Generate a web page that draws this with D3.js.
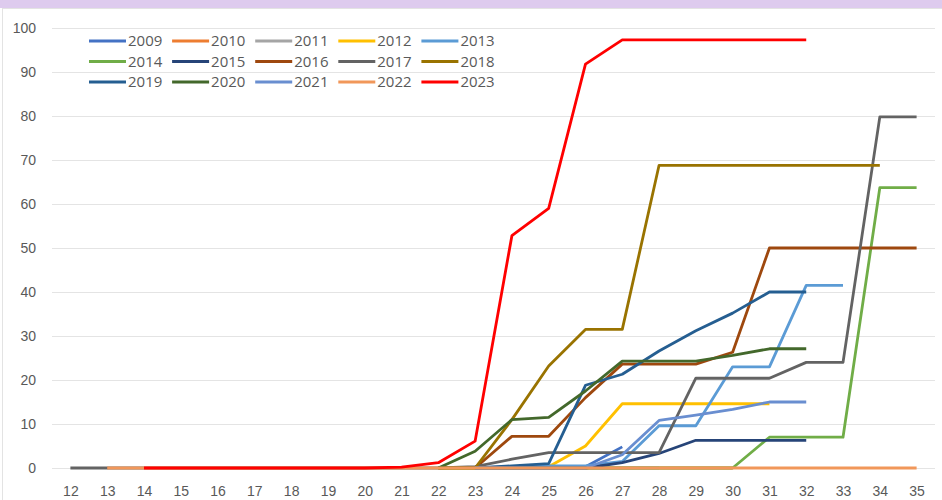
<!DOCTYPE html>
<html>
<head>
<meta charset="utf-8">
<script src="https://cdn.jsdelivr.net/npm/d3@7"></script>
<style>
  body { margin: 0; background: #fff; }
  svg { display: block; font-family: 'Open Sans', sans-serif; }
  .axis text { fill: #595959; font-size: 14px; }
  .legend text { fill: #595959; font-size: 15px; }
</style>
</head>
<body>
<svg></svg>
<script>
let svgWidth = 942
let svgHeight = 500

let weeks = [12, 13, 14, 15, 16, 17, 18, 19, 20, 21, 22, 23, 24, 25, 26, 27, 28, 29, 30, 31, 32, 33, 34, 35]
let y_ticks = [0, 10, 20, 30, 40, 50, 60, 70, 80, 90, 100]

let years = ['2009', '2010', '2011', '2012', '2013', '2014', '2015', '2016', '2017', '2018', '2019', '2020', '2021', '2022', '2023']
let colors = ['#4472C4', '#ED7D31', '#A5A5A5', '#FFC000', '#5B9BD5', '#70AD47', '#264478', '#9E480E',
  '#636363', '#997300', '#255E91', '#43682B', '#698ED0', '#F1975A', '#FF0000']

// one value per week (12 .. 35), null = no data
let s2009 = [null, null, null, null, null, null, null, null, null, null, null, null, null, 0, 0.3, 4.8, null, null, null, null, null, null, null, null]
let s2010 = [null, null, null, null, null, null, null, null, null, null, 0, 0, 0, 0, 0, 0, 0, 0, 0, null, null, null, null, null]
let s2011 = [null, null, null, null, null, null, null, null, null, null, null, 0, 0, 0, 0, 0, 0, null, null, null, null, null, null, null]
let s2012 = [null, null, null, null, null, null, null, null, null, null, null, 0, 0, 0.3, 5, 14.6, 14.6, 14.6, 14.6, 14.6, null, null, null, null]
let s2013 = [null, null, null, null, null, null, null, null, null, null, null, 0, 0.3, 0.5, 0.5, 1.5, 9.6, 9.6, 23, 23, 41.5, 41.5, null, null]
let s2014 = [null, null, null, null, null, null, null, null, null, null, 0, 0, 0, 0, 0, 0, 0, 0, 0, 7, 7, 7, 63.7, 63.7]
let s2015 = [null, null, null, null, null, null, null, null, null, null, null, 0, 0, 0, 0, 1.2, 3.3, 6.3, 6.3, 6.3, 6.3, null, null, null]
let s2016 = [null, null, null, null, null, null, null, null, null, null, null, 0, 7.2, 7.2, 16, 23.6, 23.6, 23.6, 26.3, 50, 50, 50, 50, 50]
let s2017 = [0, 0, 0, 0, 0, 0, 0, 0, 0, 0, 0, 0.3, 2, 3.5, 3.5, 3.5, 3.5, 20.4, 20.4, 20.4, 24, 24, 79.8, 79.8]
let s2018 = [null, null, null, null, null, null, null, null, null, null, 0, 0, 11, 23.2, 31.5, 31.5, 68.8, 68.8, 68.8, 68.8, 68.8, 68.8, 68.8, null]
let s2019 = [null, null, null, null, null, null, null, null, null, null, null, 0, 0.5, 1, 18.8, 21.3, 26.6, 31.2, 35.2, 40, 40, null, null, null]
let s2020 = [null, null, null, null, null, null, null, null, null, null, 0, 3.8, 11, 11.5, 17.5, 24.3, 24.3, 24.3, 25.6, 27.1, 27.1, null, null, null]
let s2021 = [null, null, null, null, null, null, null, null, null, null, null, 0, 0, 0, 0, 3, 10.8, 12, 13.3, 15, 15, null, null, null]
let s2022 = [null, 0, 0, 0, 0, 0, 0, 0, 0, 0, 0, 0, 0, 0, 0, 0, 0, 0, 0, 0, 0, 0, 0, 0]
let s2023 = [null, null, 0, 0, 0, 0, 0, 0, 0, 0.2, 1.2, 6.1, 52.8, 59, 91.8, 97.3, 97.3, 97.3, 97.3, 97.3, 97.3, null, null, null]

let seriesValues = [s2009, s2010, s2011, s2012, s2013, s2014, s2015, s2016, s2017, s2018, s2019, s2020, s2021, s2022, s2023]

let plotLeft = 52
let plotRight = 935
let plotTop = 28
let plotBottom = 468

let xScale, yScale

function setup() {
  let svg = d3.select('svg').attr('width', svgWidth).attr('height', svgHeight)

  // top band and chart border
  svg.append('rect').attr('x', 0).attr('y', 0).attr('width', svgWidth).attr('height', 8).attr('fill', '#DECBEE')
  svg.append('rect').attr('x', 2.5).attr('y', 8.5).attr('width', svgWidth + 10).attr('height', svgHeight)
    .attr('fill', 'none').attr('stroke', '#e3e3e3')

  xScale = d3.scalePoint().domain(weeks).range([plotLeft, plotRight]).padding(0.5)
  yScale = d3.scaleLinear().domain([0, 100]).range([plotBottom, plotTop])

  let y_axis = d3.axisLeft(yScale).tickValues(y_ticks).tickSize(-(plotRight - plotLeft)).tickPadding(16)
  let x_axis = d3.axisBottom(xScale).tickSize(0).tickPadding(18)

  let gy = svg.append('g').attr('class', 'axis').attr('transform', 'translate(' + plotLeft + ',0)').call(y_axis)
  gy.select('.domain').remove()
  gy.selectAll('line').attr('stroke', '#e4e4e4')

  let gx = svg.append('g').attr('class', 'axis').attr('transform', 'translate(0,' + plotBottom + ')').call(x_axis)
  gx.select('.domain').remove()

  return svg
}

function drawLines(svg) {
  let line = d3.line()
    .defined(function(d) { return d != null })
    .x(function(d, i) { return xScale(weeks[i]) })
    .y(function(d) { return yScale(d) })

  svg.append('g').selectAll('path')
    .data(seriesValues)
    .enter()
    .append('path')
    .attr('d', function(d) { return line(d) })
    .attr('fill', 'none')
    .attr('stroke', function(d, i) { return colors[i] })
    .attr('stroke-width', 2.8)
    .attr('stroke-linejoin', 'round')
}

function drawLegend(svg) {
  let legend = svg.append('g').attr('class', 'legend')
  years.forEach(function(yr, i) {
    let col = i % 5
    let row = Math.floor(i / 5)
    let x = 89 + col * 83.1
    let y = 41 + row * 20.5
    legend.append('line')
      .attr('x1', x).attr('x2', x + 37)
      .attr('y1', y).attr('y2', y)
      .attr('stroke', colors[i]).attr('stroke-width', 2.8)
    legend.append('text')
      .attr('x', x + 39).attr('y', y)
      .attr('dy', '0.35em')
      .text(yr)
  })
}

let chart = setup()
drawLines(chart)
drawLegend(chart)
</script>
</body>
</html>
